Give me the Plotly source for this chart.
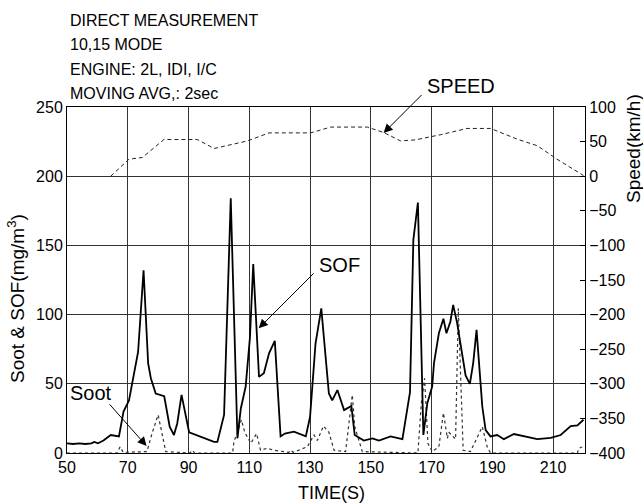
import plotly.graph_objects as go

# ---- data ----
sof_t = [50, 52, 54, 56, 58, 59, 60.2, 62, 64.4, 67.1, 68.6, 70.4, 73.4, 75.2, 76.7, 77.6, 79.2, 82,
         83.8, 85.2, 86.3, 87.7, 90.2, 98.4, 99.5, 101.7, 103.9, 106.1, 107.2, 108.8, 110.2, 111.3,
         113.2, 114.8, 116.5, 118.4, 120.3, 121.7, 124.7, 128.6, 130, 131.8, 133.7, 136.2, 137.3,
         139, 141.2, 143.6, 144.7, 147.7, 150.5, 152.7, 156.5, 160.4, 162.9, 164, 165.5, 167.3,
         168.6, 170.2, 170.8, 172.4, 173.9, 174.9, 176.2, 177.1, 178.4, 180.1, 181.2, 182.6, 183.7,
         184.8, 185.9, 186.7, 187.8, 189.4, 191.6, 193.8, 197.1, 200.4, 204.8, 209.2, 212.5, 215.8,
         218, 220]
sof_v = [7, 6.5, 7, 6.5, 7, 8, 7, 9, 13, 12, 30, 38, 73, 132, 65, 54, 43, 41,
         19, 13, 21.5, 42, 15, 8, 8, 27.5, 184, 10.6, 32, 48, 83, 136.5,
         55, 57.6, 72, 81, 12, 14, 15.4, 12, 26, 79, 104.5, 43, 38,
         45.5, 31, 34, 13, 9, 10.6, 9, 12, 10, 44, 154, 181, 13,
         36, 48, 65, 86.5, 97, 86.5, 95, 107, 94, 72, 56, 50, 65,
         89, 55, 33.5, 16.6, 12, 13, 10, 13.7, 12, 10, 11, 13, 19.5,
         20, 24]

soot_t = [50, 66.5, 67.5, 68.5, 76.3, 78.1, 80, 81.4, 82.5, 90.5, 91.3, 92, 104.5, 105, 105.9,
          107.4, 108.5, 110.5, 112.4, 113.7, 115.9, 118.1, 123, 123.6, 124.5, 129.1, 131.3, 132.4,
          134.4, 136.2, 137.9, 141.7, 143.9, 144.7, 147.2, 165.5, 166.6, 167.7, 168.8, 170.2,
          172.4, 173.9, 175.2, 175.7, 177.9, 178.8, 180.4, 182.8, 186.7, 188.3, 189.4, 218,
          218.5, 219.6, 220]
soot_v = [0, 0, 4.5, 0.5, 1, 15, 27.5, 14, 1, 0, 2, 0, 0, 9, 13,
          24, 15, 7, 14, 2, 3.4, 2, 0.5, 2, 0.5, 4.5, 13, 9,
          19.5, 15, 2, 1, 42, 19, 1, 0, 35, 54, 7, 1,
          4.5, 29, 10.6, 15, 10, 104.5, 2, 1, 19, 4.5, 0, 0,
          3.4, 4.5, 5]

speed_t = [64.4, 70.4, 74.8, 81.9, 92.9, 98.4, 109.4, 116.5, 130.2, 136.8, 148.9, 154.3, 159.8,
           164.7, 173, 181.7, 189.4, 198.2, 204.8, 211.3, 220]
speed_v = [0, 24.6, 27, 53, 53, 40, 51, 62.6, 62.6, 71, 71, 63, 51,
           52.5, 60, 69, 69, 53.5, 44, 24.6, 1]

x_ticks = [50, 70, 90, 110, 130, 150, 170, 190, 210]
y_ticks = [0, 50, 100, 150, 200, 250]
y2_ticks = [-400, -350, -300, -250, -200, -150, -100, -50, 0, 50, 100]

header = ["DIRECT MEASUREMENT", "10,15 MODE", "ENGINE: 2L, IDI, I/C", "MOVING AVG,: 2sec"]

FONT = "Liberation Sans, Arial, sans-serif"

fig = go.Figure()
fig.add_trace(go.Scatter(x=soot_t, y=soot_v, mode="lines",
                         line=dict(color="#333333", width=1.2, dash="dot"), name="Soot"))
fig.add_trace(go.Scatter(x=sof_t, y=sof_v, mode="lines",
                         line=dict(color="black", width=1.8), name="SOF"))
fig.add_trace(go.Scatter(x=speed_t, y=speed_v, mode="lines", yaxis="y2",
                         line=dict(color="#222222", width=1, dash="4px,3px"), name="Speed"))

W, H = 643, 504
L, R, T, B = 67, 58, 107, 51
pw, ph = W - L - R, H - T - B


def px(xp):
    return (xp - L) / pw


def py(yp):
    return (H - B - yp) / ph


ann = []
for i, line in enumerate(header):
    ann.append(dict(x=px(68), y=py(21 + 24 * i), xref="paper", yref="paper", text=line,
                    showarrow=False, xanchor="left", yanchor="middle",
                    font=dict(size=16, color="black", family=FONT)))

# arrows (head in data coordinates, tail offset in pixels)
for hx, hy, ax, ay in [(154.2, 231.2, 40, -40), (113.1, 90.1, 57, -57), (76.2, 5, -39, -44)]:
    ann.append(dict(x=hx, y=hy, xref="x", yref="y", ax=ax, ay=ay, text=" ", showarrow=True,
                    arrowhead=2, arrowsize=1.8, arrowwidth=1, arrowcolor="black",
                    font=dict(size=4)))

for tx, ty, s in [(461, 86, "SPEED"), (339, 265, "SOF"), (90.5, 393, "Soot")]:
    ann.append(dict(x=px(tx), y=py(ty), xref="paper", yref="paper", text=s, showarrow=False,
                    xanchor="center", yanchor="middle",
                    font=dict(size=20, color="black", family=FONT)))

ann.append(dict(x=px(331), y=py(493), xref="paper", yref="paper", text="TIME(S)", showarrow=False,
                xanchor="center", yanchor="middle", font=dict(size=18, color="black", family=FONT)))
ann.append(dict(x=px(16), y=py(299), xref="paper", yref="paper",
                text="Soot & SOF(mg/m<sup>3</sup>)", showarrow=False, textangle=-90,
                xanchor="center", yanchor="middle", font=dict(size=19, color="black", family=FONT)))
ann.append(dict(x=px(633), y=py(149), xref="paper", yref="paper", text="Speed(km/h)",
                showarrow=False, textangle=-90, xanchor="center", yanchor="middle",
                font=dict(size=19, color="black", family=FONT)))

fig.update_layout(
    width=W, height=H,
    margin=dict(l=L, r=R, t=T, b=B, pad=0),
    paper_bgcolor="white", plot_bgcolor="white",
    showlegend=False,
    font=dict(family=FONT, size=16, color="black"),
    xaxis=dict(range=[50, 220.5], tickmode="array", tickvals=x_ticks, ticks="",
               showgrid=True, gridcolor="#333333", gridwidth=1, zeroline=False,
               showline=True, linecolor="black", linewidth=1, mirror=True,
               tickfont=dict(size=16)),
    yaxis=dict(range=[0, 250], tickmode="array", tickvals=y_ticks, ticks="",
               showgrid=True, gridcolor="#333333", gridwidth=1, zeroline=False,
               showline=True, linecolor="black", linewidth=1, mirror=True,
               tickfont=dict(size=16)),
    yaxis2=dict(range=[-400, 100], tickmode="array", tickvals=y2_ticks, overlaying="y",
                side="right", ticks="inside", ticklen=5, tickcolor="black",
                showgrid=False, zeroline=False, showline=True, linecolor="black", linewidth=1,
                tickfont=dict(size=16)),
    annotations=ann,
)

fig.write_html("out.html", config={"displayModeBar": False},
               post_script="document.body.style.margin='0';document.body.style.padding='0';")
